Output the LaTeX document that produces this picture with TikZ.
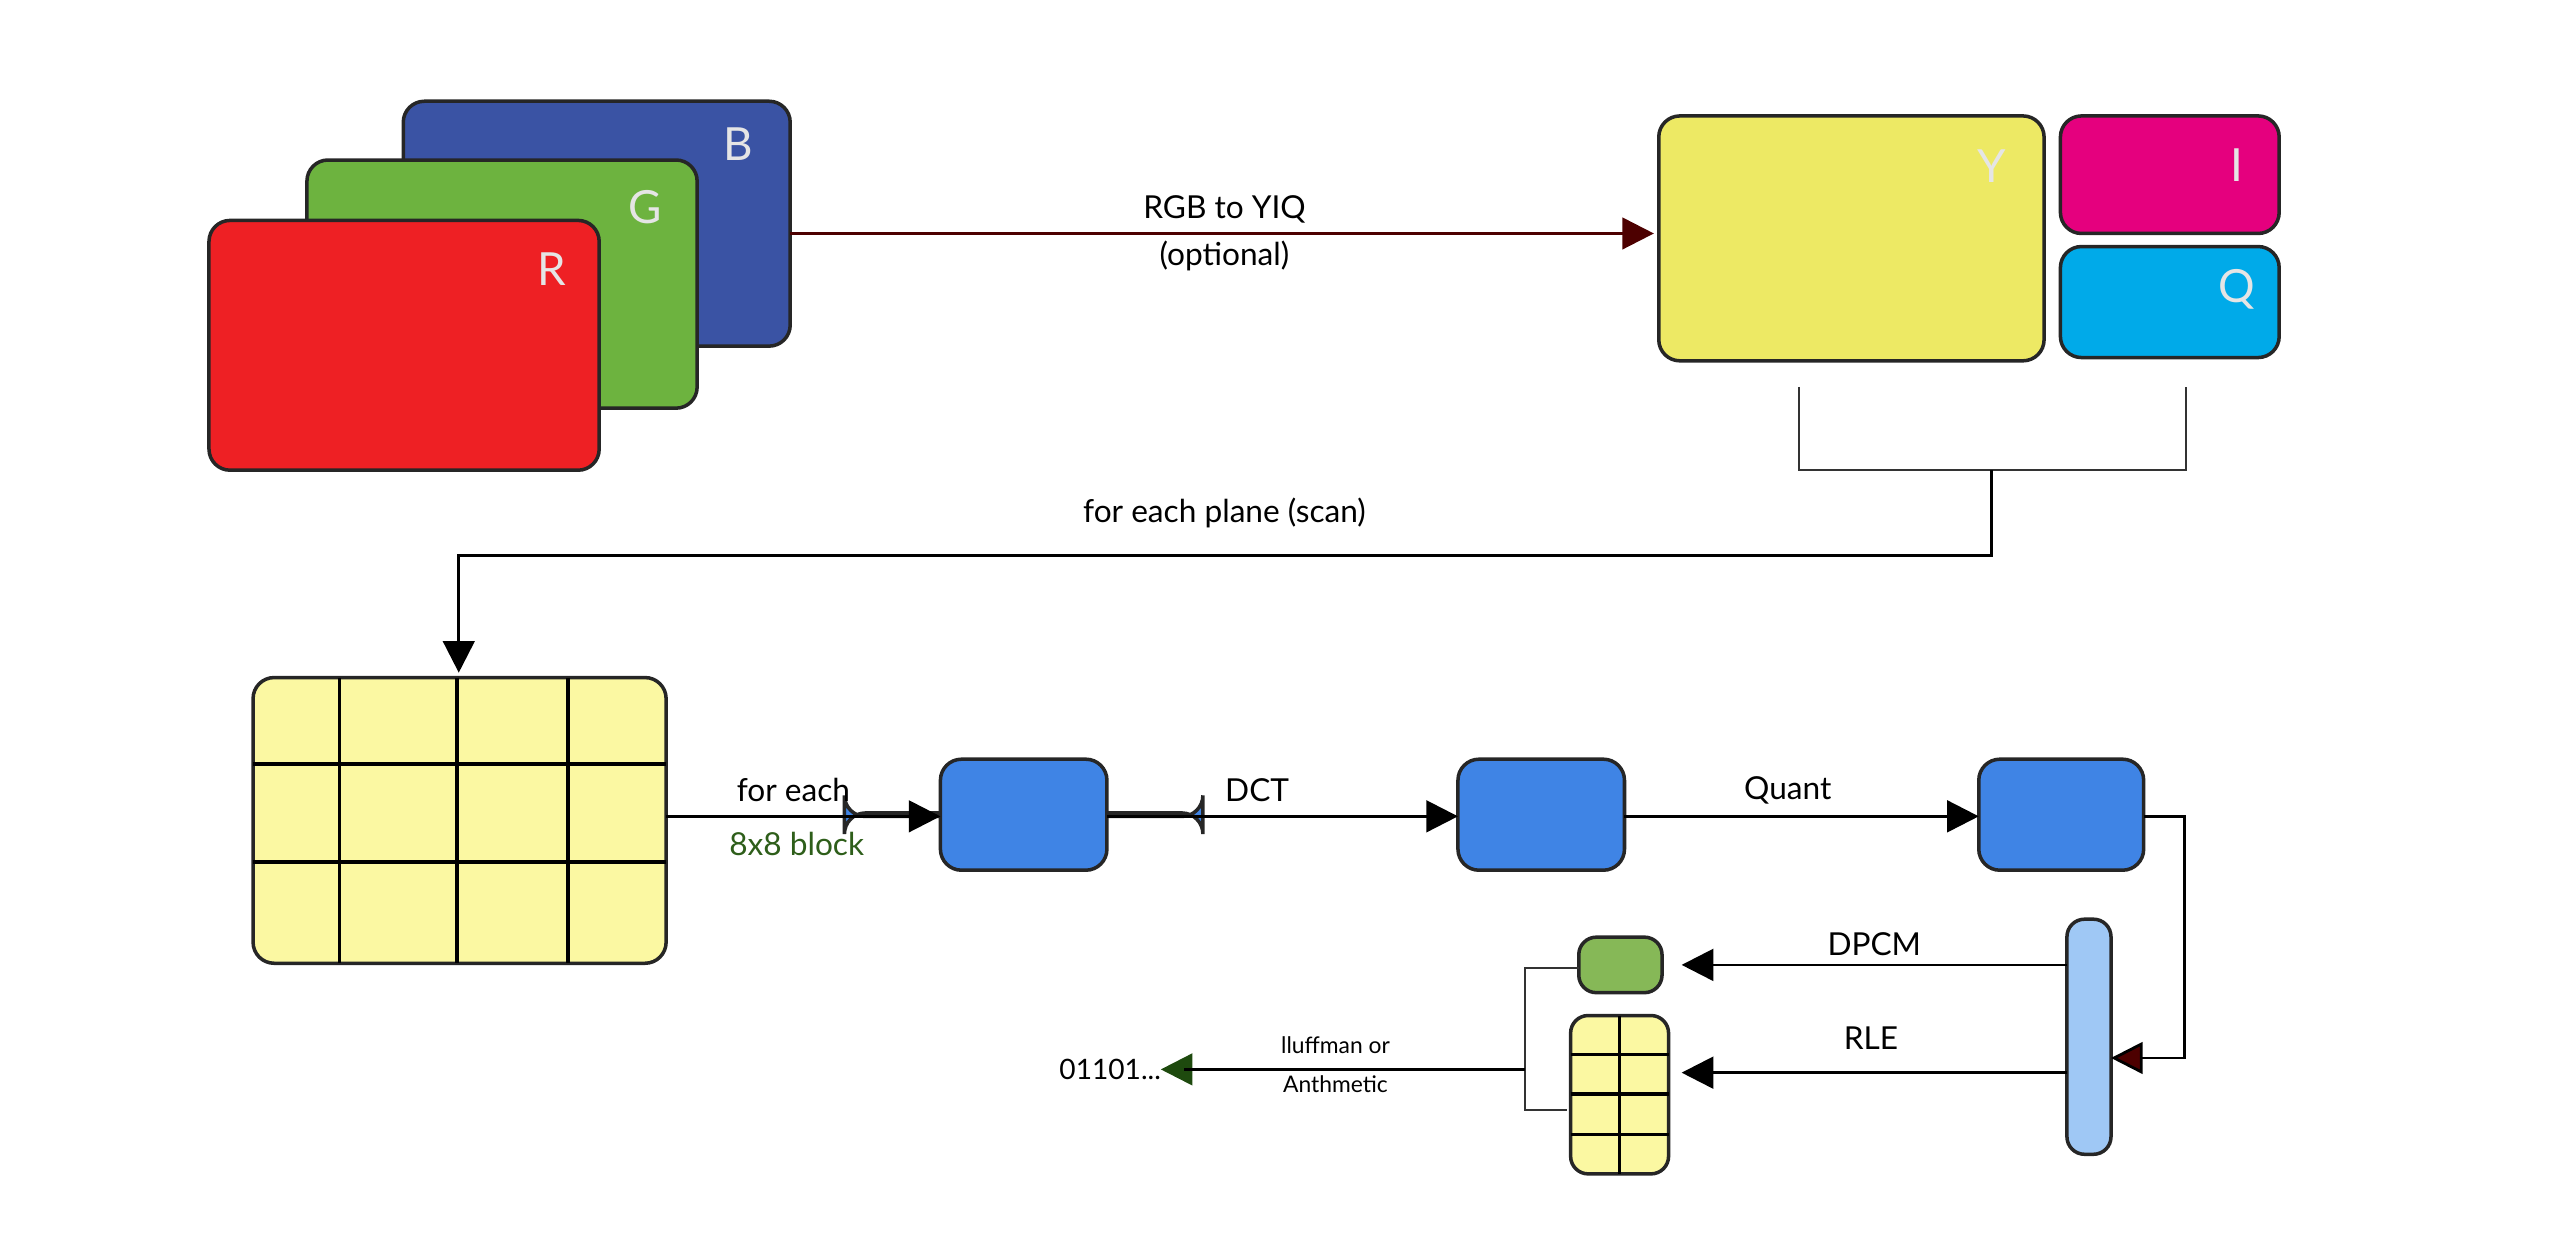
\documentclass[tikz,border=0pt]{standalone}
\usepackage{fontspec}
\setmainfont{Lato}
\usetikzlibrary{arrows.meta}
\definecolor{cR}{HTML}{EE2024}
\definecolor{cG}{HTML}{6DB33F}
\definecolor{cB}{HTML}{3A53A4}
\definecolor{cY}{HTML}{EDE964}
\definecolor{cI}{HTML}{E5007E}
\definecolor{cQ}{HTML}{00AAE9}
\definecolor{cblk}{HTML}{3F84E5}
\definecolor{clb}{HTML}{9FC8F5}
\definecolor{cgy}{HTML}{FBF8A2}
\definecolor{csg}{HTML}{86B857}
\definecolor{dred}{HTML}{4D0000}
\definecolor{dgreen}{HTML}{1E4A0E}
\definecolor{tgreen}{HTML}{2E5E1A}
\begin{document}
\begin{tikzpicture}[x=0.01633cm,y=-0.01633cm,
  box/.style={draw=black!85,line width=1pt,rounded corners=6pt},
  lbl/.style={font=\fontsize{9}{10}\selectfont},
  big/.style={font=\fontsize{13}{14}\selectfont,text=white!90!black},
  tri/.style={-{Triangle[length=9pt,width=9pt]}},
  conn/.style={line width=0.8pt}]
\useasboundingbox (0,0) rectangle (1568,759);
% RGB planes
\draw[box,fill=cB] (247,62) rectangle (484,212);
\node[big] (lb) at (452,88) {B};
\draw[box,fill=cG] (188,98) rectangle (427,250);
\node[big] (lg) at (395,127) {G};
\draw[box,fill=cR] (128,135) rectangle (367,288);
\node[big] (lr) at (338,165) {R};
\coordinate (rgbout) at (484,143);
% YIQ
\draw[box,fill=cY] (1016,71) rectangle (1252,221);
\node[big] (ly) at (1220,102) {Y};
\coordinate (yin) at (1013,143);
\draw[box,fill=cI] (1262,71) rectangle (1396,143);
\node[big] (li) at (1370,101) {I};
\draw[box,fill=cQ] (1262,151) rectangle (1396,219);
\node[big] (lq) at (1370,177) {Q};
\draw[conn,dred,tri,-{Triangle[length=9pt,width=9pt,fill=dred]}] (rgbout) -- (yin);
\node[lbl] (t1) at (750,128) {RGB to YIQ};
\node[lbl] (t2) at (750,157) {(optional)};
% bracket
\draw[line width=0.5pt,black!80] (1102,237) -- (1102,288) -- (1339,288) -- (1339,237);
\coordinate (bm) at (1220,288);
\coordinate (grid) at (281,412);
\draw[conn,tri] (bm) -- (1220,340) -- (281,340) -- (grid);
\node[lbl] (t3) at (750,314) {for each plane (scan)};
% grid
\draw[box,fill=cgy] (155,415) rectangle (408,590);
\foreach \xx in {208,280,348} \draw[line width=1pt] (\xx,415) -- (\xx,590);
\foreach \yy in {468,528} \draw[line width=1pt] (155,\yy) -- (408,\yy);
\coordinate (gout) at (408,500);
% blocks
\node[box,fill=cblk,minimum width=102\pgflinewidth,inner sep=0pt] (b1) at (627,499) {};
\draw[box,fill=cblk] (576,465) rectangle (678,533);
\draw[box,fill=cblk] (893,465) rectangle (995,533);
\draw[box,fill=cblk] (1212,465) rectangle (1313,533);
\coordinate (b1w) at (576,500); \coordinate (b1e) at (678,500);
\coordinate (b2w) at (893,500); \coordinate (b2e) at (995,500);
\coordinate (b3w) at (1212,500); \coordinate (b3e) at (1313,500);
\draw[conn,tri] (gout) -- (b1w);
\node[lbl] (t4) at (486,484) {for each};
\node[lbl,text=tgreen] (t5) at (488,517) {8x8 block};
\draw[conn,tri] (b1e) -- (b2w);
\node[lbl] (t6) at (770,484) {DCT};
\draw[conn,tri] (b2e) -- (b3w);
\node[lbl] (t7) at (1095,484) {Quant};
% light blue bar
\draw[box,fill=clb,rounded corners=5pt] (1266,563) rectangle (1293,707);
\coordinate (barin) at (1293,648);
\draw[conn,-{Triangle[length=9pt,width=9pt,fill=dred]}] (b3e) -- (1338,500) -- (1338,648) -- (barin);
\coordinate (bar1) at (1266,591); \coordinate (bar2) at (1266,657);
% small boxes
\draw[box,fill=csg,rounded corners=5pt] (967,574) rectangle (1018,608);
\draw[box,fill=cgy,rounded corners=5pt] (962,622) rectangle (1022,719);
\draw[line width=1pt] (992,622) -- (992,719);
\foreach \yy in {646,670,695} \draw[line width=1pt] (962,\yy) -- (1022,\yy);
\draw[conn,tri] (bar1) -- (1030,591);
\node[lbl] (t8) at (1148,578) {DPCM};
\draw[conn,tri] (bar2) -- (1030,657);
\node[lbl] (t9) at (1146,636) {RLE};
% output bracket
\draw[line width=0.5pt,black!80] (967,593) -- (934,593) -- (934,680) -- (960,680);
\coordinate (ob) at (934,655);
\coordinate (outp) at (711,655);
\draw[conn,-{Triangle[length=9pt,width=9pt,fill=dgreen]},dgreen] (ob) -- (outp);
\draw[conn] (ob) -- (725,655);
\node[font=\fontsize{8}{9}\selectfont] (o) at (680,655) {01101...};
\node[font=\fontsize{6.5}{7}\selectfont] (t10) at (818,640) {lluffman or};
\node[font=\fontsize{6.5}{7}\selectfont] (t11) at (818,664) {Anthmetic};
\end{tikzpicture}
\end{document}
